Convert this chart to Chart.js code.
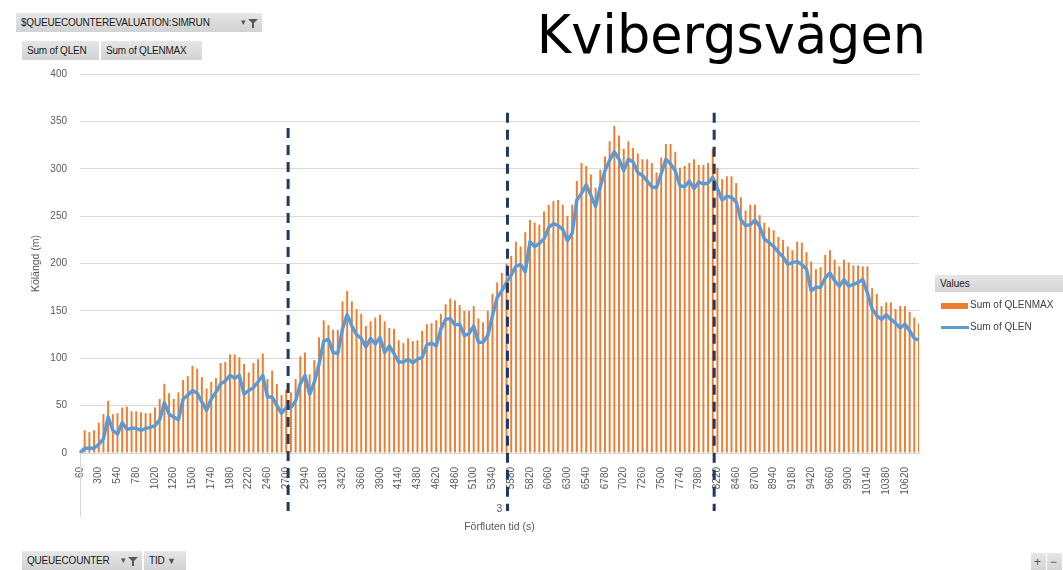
<!DOCTYPE html>
<html>
<head>
<meta charset="utf-8">
<script src="https://cdn.jsdelivr.net/npm/chart.js@4.4.1/dist/chart.umd.min.js"></script>
<style>
body{margin:0;background:#fff;font-family:"Liberation Sans",Arial,sans-serif}
#wrap{position:relative;width:1063px;height:570px;overflow:hidden}
#chart{position:absolute;left:0;top:0}
.btn{position:absolute;height:19px;line-height:19px;background:linear-gradient(#e6e6e6,#d2d2d2);font-size:10px;color:#1a1a1a;padding:0 5px;box-sizing:border-box;white-space:nowrap;letter-spacing:-0.2px}
.btn .ico{position:absolute;right:4px;top:0;font-size:9px;color:#555}
.btn svg{vertical-align:middle}
#title{position:absolute;right:137px;top:9px;font-family:"DejaVu Sans";font-size:52.5px;line-height:52px;color:#000;white-space:nowrap}
#lgHead{position:absolute;left:935px;top:275px;width:128px;height:17px;line-height:17px;background:linear-gradient(#e6e6e6,#d4d4d4);font-size:10px;padding-left:5px;box-sizing:border-box;color:#1a1a1a}
.lgTxt{position:absolute;left:970px;font-size:10px;color:#404040;white-space:nowrap}
</style>
</head>
<body>
<div id="wrap">
  <canvas id="chart" width="1063" height="570"></canvas>
  <div id="title">Kvibergsvägen</div>

  <div class="btn" style="left:16px;top:13px;width:246px">$QUEUECOUNTEREVALUATION:SIMRUN
    <span class="ico">▾ <svg width="10" height="10"><path d="M0 1H10L6 5V10H4V5Z" fill="#595959"/></svg></span></div>
  <div class="btn" style="left:22px;top:41px;width:77px">Sum of QLEN</div>
  <div class="btn" style="left:101px;top:41px;width:101px">Sum of QLENMAX</div>

  <div class="btn" style="left:22px;top:551px;width:120px">QUEUECOUNTER
    <span class="ico">▾ <svg width="10" height="10"><path d="M0 1H10L6 5V10H4V5Z" fill="#595959"/></svg></span></div>
  <div class="btn" style="left:144px;top:551px;width:42px">TID <span style="font-size:9px;color:#555">▼</span></div>
  <div class="btn" style="left:1031px;top:553px;width:15px;padding:0 3px;font-size:12px;color:#555">+</div>
  <div class="btn" style="left:1047px;top:553px;width:15px;padding:0 3px;font-size:12px;color:#555">−</div>

  <div id="lgHead">Values</div>
  <div style="position:absolute;left:941px;top:303px;width:27px;height:6px;background:#ED7D31"></div>
  <div class="lgTxt" style="top:299px">Sum of QLENMAX</div>
  <div style="position:absolute;left:941px;top:326px;width:28px;height:3px;background:#5B9BD5"></div>
  <div class="lgTxt" style="top:321px">Sum of QLEN</div>
</div>

<script>
// elapsed time (s), one category per minute
const times=[
60,120,180,240,300,360,420,480,540,600,660,720,
780,840,900,960,1020,1080,1140,1200,1260,1320,1380,1440,
1500,1560,1620,1680,1740,1800,1860,1920,1980,2040,2100,2160,
2220,2280,2340,2400,2460,2520,2580,2640,2700,2760,2820,2880,
2940,3000,3060,3120,3180,3240,3300,3360,3420,3480,3540,3600,
3660,3720,3780,3840,3900,3960,4020,4080,4140,4200,4260,4320,
4380,4440,4500,4560,4620,4680,4740,4800,4860,4920,4980,5040,
5100,5160,5220,5280,5340,5400,5460,5520,5580,5640,5700,5760,
5820,5880,5940,6000,6060,6120,6180,6240,6300,6360,6420,6480,
6540,6600,6660,6720,6780,6840,6900,6960,7020,7080,7140,7200,
7260,7320,7380,7440,7500,7560,7620,7680,7740,7800,7860,7920,
7980,8040,8100,8160,8220,8280,8340,8400,8460,8520,8580,8640,
8700,8760,8820,8880,8940,9000,9060,9120,9180,9240,9300,9360,
9420,9480,9540,9600,9660,9720,9780,9840,9900,9960,10020,10080,
10140,10200,10260,10320,10380,10440,10500,10560,10620,10680,10740,10800
];

// Sum of QLENMAX (bars)
const qlenMax=[
0,24,22,24,32,41,55,41,42,48,49,44,
44,43,42,42,48,57,73,63,57,64,77,81,
92,89,80,68,75,79,95,96,104,104,101,94,
85,95,99,105,78,87,73,61,67,64,78,102,
106,83,98,122,140,135,130,130,160,171,160,152,
147,134,139,143,146,139,132,131,119,116,121,118,
119,129,136,137,140,147,157,163,161,156,150,150,
155,142,138,150,168,180,190,200,208,223,218,233,
246,243,241,255,262,266,267,262,250,262,287,306,
303,294,280,299,313,329,345,335,321,329,322,316,
310,310,306,296,312,326,326,318,301,303,306,310,
304,304,306,321,301,289,292,292,285,270,256,262,
262,251,243,238,235,228,225,218,214,223,222,212,
202,194,196,209,214,204,197,204,201,198,198,197,
197,174,168,155,159,159,152,155,155,149,143,137
];

// Sum of QLEN (line)
const qlen=[
0,5,5,5,9,15,38,24,20,32,25,26,
26,24,26,27,29,35,53,41,38,35,57,61,
66,63,54,45,57,64,73,76,82,79,82,62,
66,69,75,82,59,59,50,42,48,48,55,73,
82,62,75,94,118,120,106,105,131,146,134,125,
121,112,121,115,122,106,113,105,96,96,99,95,
99,101,114,116,113,131,141,142,135,136,124,126,
134,117,117,124,145,164,171,180,188,197,199,191,
223,218,221,226,238,242,240,236,224,232,267,274,
283,272,260,281,298,309,318,310,298,310,307,296,
293,287,281,280,295,310,305,298,282,281,287,279,
286,284,285,291,279,267,271,270,265,246,240,241,
246,239,226,222,218,212,207,199,201,202,199,194,
171,175,175,185,190,182,176,183,176,178,180,183,
169,152,145,141,146,141,137,132,136,129,121,119
];

const yTicks=[0,50,100,150,200,250,300,350,400];

// dashed period markers: time (s) and top of line (m)
const markerTimes=[2724,5532,8178];
const markerTops=[343,359,359];

const markers={
  id:"markers",
  afterDraw(chart){
    const {ctx,chartArea,scales:{x,y}}=chart;
    ctx.save();
    // multi-level axis separator
    ctx.strokeStyle="#D9D9D9";
    ctx.lineWidth=1;
    ctx.beginPath();
    ctx.moveTo(chartArea.left+0.5,chartArea.bottom);
    ctx.lineTo(chartArea.left+0.5,chartArea.bottom+64);
    ctx.stroke();

    ctx.strokeStyle="#1F3864";
    ctx.lineWidth=3;
    ctx.setLineDash([10,7]);
    markerTimes.forEach((t,k)=>{
      const px=x.getPixelForValue((t-times[0])/(times[1]-times[0]));
      ctx.beginPath();
      ctx.moveTo(px,y.getPixelForValue(markerTops[k]));
      ctx.lineTo(px,chartArea.bottom+58);
      ctx.stroke();
    });
    ctx.restore();
  }
};

Chart.defaults.font.family='"Liberation Sans", Arial, sans-serif';
Chart.defaults.color="#595959";

new Chart(document.getElementById("chart"),{
  type:"bar",
  data:{
    labels:times.map(String),
    datasets:[
      {type:"line",label:"Sum of QLEN",data:qlen,borderColor:"#5B9BD5",borderWidth:3.5,
       pointRadius:0,tension:0,order:0,borderJoinStyle:"round"},
      {type:"bar",label:"Sum of QLENMAX",data:qlenMax,backgroundColor:"#ED7D31",
       barPercentage:0.42,categoryPercentage:1,order:1}
    ]
  },
  options:{
    responsive:false,
    animation:false,
    devicePixelRatio:1,
    layout:{padding:{left:20,top:74,right:144,bottom:33}},
    plugins:{legend:{display:false},tooltip:{enabled:false}},
    scales:{
      x:{
        offset:false,
        grid:{display:false},
        border:{display:true,color:"#D9D9D9"},
        ticks:{autoSkip:false,maxRotation:90,minRotation:90,padding:6,font:{size:10},
          callback:(v,i)=>i%4===0?times[i]:null},
        title:{display:true,text:["3","Förfluten tid (s)"],font:{size:10.5,lineHeight:1.8},padding:0},
        afterFit:s=>{s.height=84;}
      },
      y:{
        min:0,max:400,
        afterBuildTicks:s=>{s.ticks=yTicks.map(v=>({value:v}));},
        grid:{color:"#D9D9D9",drawTicks:false},
        border:{display:false},
        ticks:{padding:13,font:{size:10}},
        title:{display:true,text:"Kölängd (m)",font:{size:10.5},padding:{top:10}},
        afterFit:s=>{s.width=60;}
      }
    }
  },
  plugins:[markers]
});
</script>
</body>
</html>
